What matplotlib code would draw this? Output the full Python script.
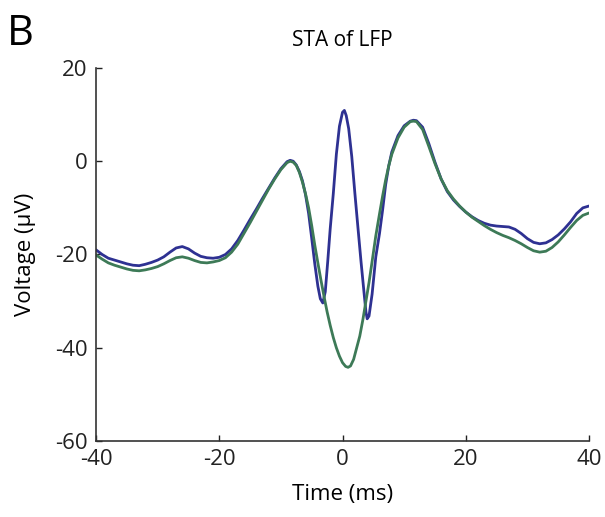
import matplotlib
matplotlib.use("Agg")
import matplotlib.pyplot as plt

# STA of LFP
time_blue = [-40, -39, -38, -37, -36, -35, -34, -33, -32, -31, -30, -29, -28, -27, -26, -25, -24, -23, -22,
             -21, -20, -19, -18, -17, -16, -15, -14, -13, -12, -11, -10, -9, -8.5, -8, -7.5, -7, -6.5, -6,
             -5.5, -5, -4.5, -4, -3.6, -3.2, -2.8, -2.4, -2, -1.5, -1, -0.5, 0, 0.3, 0.6, 1, 1.5, 2, 2.5,
             3, 3.5, 3.8, 4, 4.3, 4.8, 5.4, 6, 6.5, 7, 7.5, 8, 9, 10, 11, 11.5, 12, 13, 14, 15, 16, 17, 18,
             19, 20, 21, 22, 23, 24, 25, 26, 27, 28, 29, 30, 31, 32, 33, 34, 35, 36, 37, 38, 39, 40]
lfp_blue = [-19.0, -20.0, -20.8, -21.2, -21.6, -22.0, -22.3, -22.4, -22.1, -21.7, -21.2, -20.5, -19.5, -18.6,
            -18.3, -18.8, -19.7, -20.4, -20.7, -20.8, -20.6, -20.0, -18.8, -17.0, -14.8, -12.5, -10.3, -8.0,
            -5.8, -3.6, -1.6, -0.1, 0.2, 0.0, -0.8, -2.2, -4.2, -7.2, -11.2, -16.5, -22.0, -26.8, -29.5,
            -30.4, -28.0, -21.5, -14.5, -7.0, 1.5, 7.5, 10.5, 10.9, 9.8, 7.0, 1.0, -6.8, -14.2, -21.5,
            -28.3, -32.3, -33.8, -33.2, -28.5, -20.5, -15.5, -10.5, -5.0, -1.0, 2.0, 5.5, 7.6, 8.6, 8.8,
            8.7, 7.3, 3.8, -0.2, -3.8, -6.5, -8.3, -9.7, -10.9, -11.9, -12.7, -13.3, -13.7, -13.9, -14.0,
            -14.1, -14.6, -15.5, -16.6, -17.4, -17.7, -17.5, -16.8, -15.8, -14.5, -13.0, -11.2, -10.0, -9.6]

time_green = [-40, -39, -38, -37, -36, -35, -34, -33, -32, -31, -30, -29, -28, -27, -26, -25, -24, -23, -22,
              -21, -20, -19, -18, -17, -16, -15, -14, -13, -12, -11, -10, -9, -8.5, -8, -7.5, -7, -6.5,
              -6, -5.5, -5, -4.5, -4, -3.5, -3, -2.5, -2, -1.5, -1, -0.5, 0, 0.5, 0.9, 1.3, 1.8, 2.3, 2.8,
              3.3, 3.8, 4.3, 4.8, 5.4, 6, 6.5, 7, 7.5, 8, 9, 10, 11, 11.5, 12, 13, 14, 15, 16, 17, 18, 19,
              20, 21, 22, 23, 24, 25, 26, 27, 28, 29, 30, 31, 32, 33, 34, 35, 36, 37, 38, 39, 40]
lfp_green = [-20.1, -21.0, -21.8, -22.3, -22.7, -23.1, -23.4, -23.5, -23.3, -23.0, -22.6, -22.0, -21.3, -20.7,
             -20.5, -20.8, -21.3, -21.7, -21.8, -21.6, -21.3, -20.7, -19.5, -17.8, -15.5, -13.2, -10.8,
             -8.4, -6.0, -3.8, -1.8, -0.3, 0.0, -0.2, -0.9, -2.4, -4.5, -7.0, -10.0, -13.8, -18.0, -21.8,
             -25.5, -29.0, -32.3, -35.2, -37.8, -40.0, -41.8, -43.2, -44.0, -44.2, -43.9, -42.5, -40.0,
             -37.5, -34.0, -30.0, -26.0, -21.5, -16.0, -11.3, -7.5, -4.0, -1.0, 1.5, 5.0, 7.3, 8.5, 8.6,
             8.5, 6.8, 3.2, -0.5, -3.8, -6.3, -8.1, -9.6, -10.9, -12.0, -12.9, -13.8, -14.6, -15.3, -15.9,
             -16.4, -17.0, -17.7, -18.5, -19.2, -19.5, -19.3, -18.5, -17.3, -15.8, -14.2, -12.7, -11.6,
             -11.1]

x_ticks = [-40, -20, 0, 20, 40]
y_ticks = [-60, -40, -20, 0, 20]

plt.rcParams['font.family'] = ['Open Sans', 'DejaVu Sans']
plt.rcParams['axes.unicode_minus'] = False

fig = plt.figure(figsize=(6.05, 5.17), dpi=100)
ax = fig.add_axes([0.1587, 0.147, 0.8149, 0.7215])

# bleu d'abord, le vert passe par-dessus
ax.plot(time_blue, lfp_blue, color='#2E3192', linewidth=2.0,
        solid_joinstyle='round', solid_capstyle='round')
ax.plot(time_green, lfp_green, color='#3D7A57', linewidth=2.0,
        solid_joinstyle='round', solid_capstyle='round')

ax.set_xlim(-40, 40)
ax.set_ylim(-60, 20)
ax.set_xticks(x_ticks)
ax.set_yticks(y_ticks)
ax.tick_params(direction='in', length=4, width=1, labelsize=16, colors='#222222', pad=6)
for s in ['top', 'right']:
    ax.spines[s].set_visible(False)
for s in ['left', 'bottom']:
    ax.spines[s].set_color('#333333')
    ax.spines[s].set_linewidth(1.2)

ax.set_xlabel('Time (ms)', fontsize=16, labelpad=10)
ax.set_ylabel('Voltage (\u00b5V)', fontsize=16, labelpad=14)
ax.set_title('STA of LFP', fontsize=15, pad=16)
fig.text(0.012, 0.975, 'B', fontsize=30, va='top', ha='left')

fig.savefig('out.png', dpi=100)
